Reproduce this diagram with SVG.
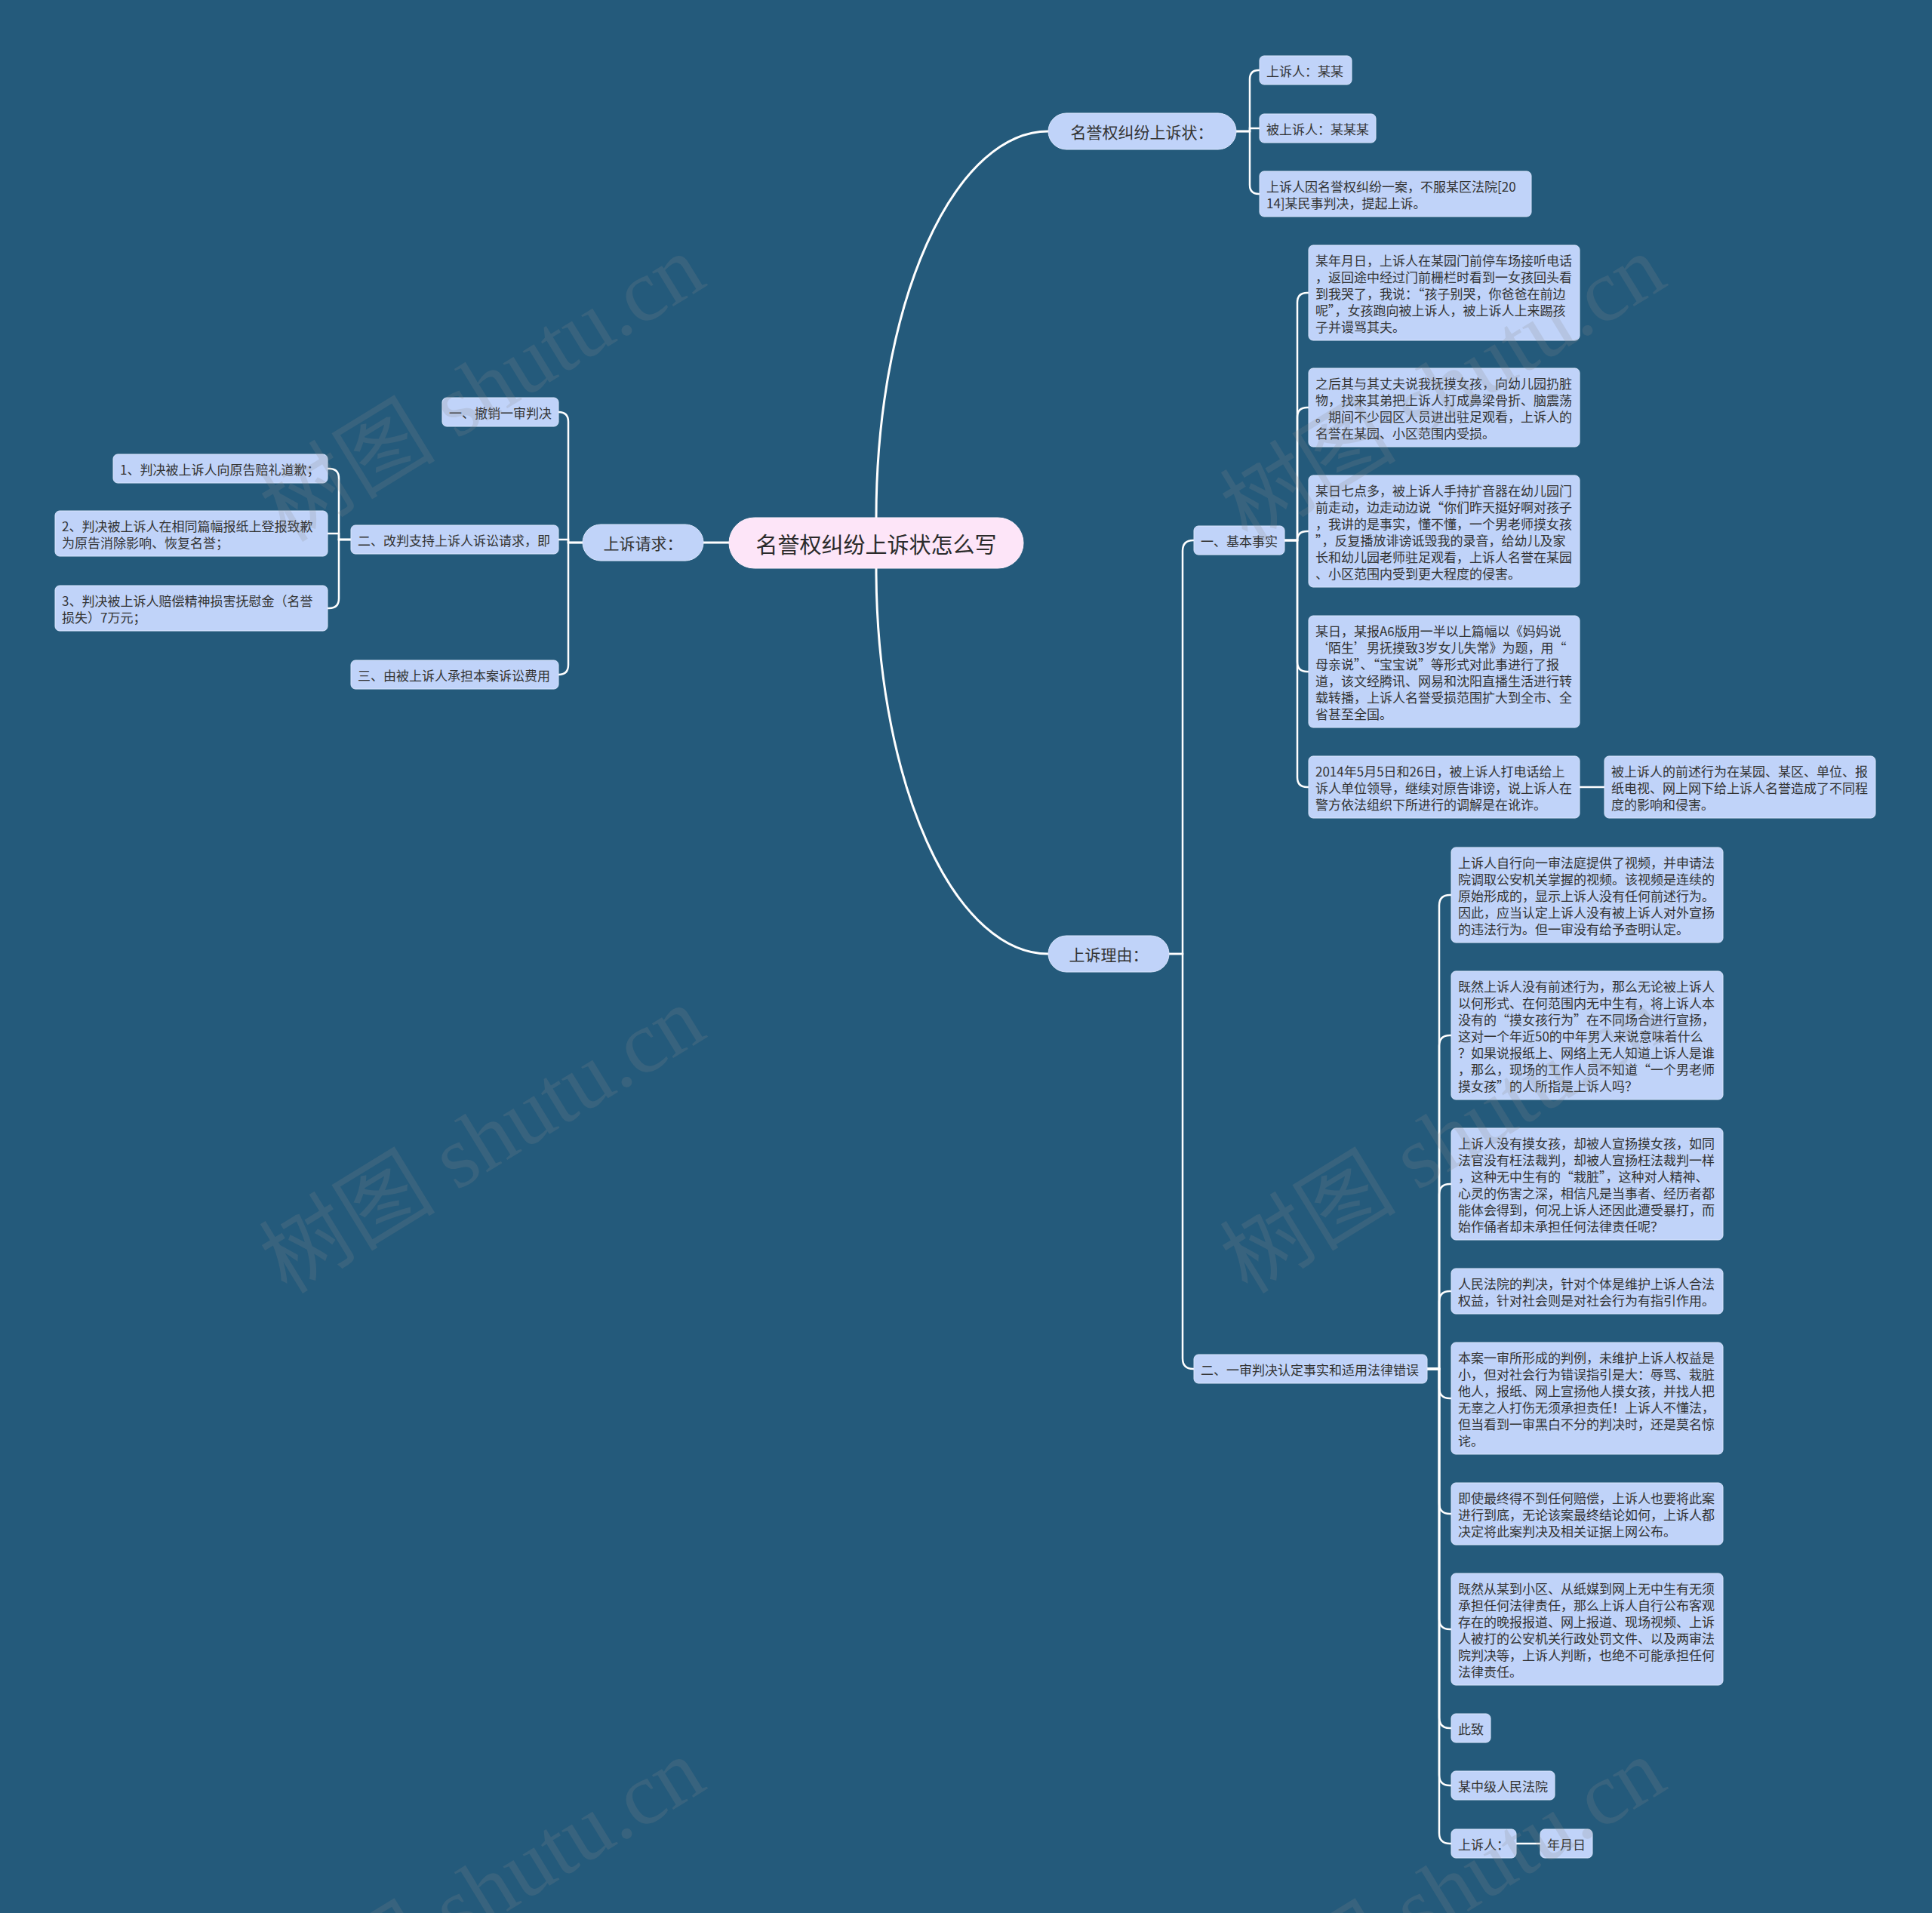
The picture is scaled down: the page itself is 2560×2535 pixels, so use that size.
<svg xmlns="http://www.w3.org/2000/svg" width="2560" height="2535" viewBox="0 0 2560 2535">
<style>
  .bg{fill:#245a7b}
  .c path{fill:none;stroke:#ffffff;stroke-width:2.5;stroke-linecap:round}
  .c .m{stroke-width:3}
  .n rect{fill:#c0d3f9;stroke:#d9e5fd;stroke-width:1}
  .n text{font-family:"Noto Sans CJK SC","Noto Sans",sans-serif;font-size:17px;fill:#333333;dominant-baseline:central}
  .l1 text{font-size:21px;text-anchor:middle}
  .root rect{fill:#fde5f8;stroke:#fff0fb}
  .root text{font-size:29px;text-anchor:middle;fill:#2b2b2b}
  .wm text{font-family:"Liberation Serif","Noto Sans CJK SC",serif;font-size:117px;fill:#8a8a8a;opacity:0.2}
</style>
<rect class="bg" x="0" y="0" width="2560" height="2535"/>

<g class="c" id="connectors">
  <path class="m" d="M1161 686 A228 512 0 0 1 1389 174"/>
  <path class="m" d="M1161 753 A228 511 0 0 0 1389 1264"/>
  <path class="m" d="M966 719 H932"/>
  <path d="M1638 174 H1656 V105 Q1656 93 1668 93 H1669"/>
  <path d="M1638 174 H1656 V170 H1669"/>
  <path d="M1638 174 H1656 V245 Q1656 257 1668 257 H1669"/>
  <path d="M1549 1264 H1567 V730 Q1567 716 1581 716 H1582"/>
  <path d="M1549 1264 H1567 V1800 Q1567 1814 1581 1814 H1582"/>
  <path d="M1701 716 H1719 V401 Q1719 388 1732 388 H1734"/>
  <path d="M1701 716 H1719 V553 Q1719 540 1732 540 H1734"/>
  <path d="M1701 716 H1719 Q1719 704 1732 704 H1734"/>
  <path d="M1701 716 H1719 V877 Q1719 890 1732 890 H1734"/>
  <path d="M1701 716 H1719 V1030 Q1719 1043 1732 1043 H1734"/>
  <path d="M2093 1043 H2126"/>
  <path d="M1891 1814 H1907 V1200 Q1907 1186 1921 1186 H1923"/>
  <path d="M1891 1814 H1907 V1386 Q1907 1372 1921 1372 H1923"/>
  <path d="M1891 1814 H1907 V1583 Q1907 1569 1921 1569 H1923"/>
  <path d="M1891 1814 H1907 V1725 Q1907 1711 1921 1711 H1923"/>
  <path d="M1891 1814 H1907 V1839 Q1907 1853 1921 1853 H1923"/>
  <path d="M1891 1814 H1907 V1992 Q1907 2006 1921 2006 H1923"/>
  <path d="M1891 1814 H1907 V2145 Q1907 2159 1921 2159 H1923"/>
  <path d="M1891 1814 H1907 V2276 Q1907 2290 1921 2290 H1923"/>
  <path d="M1891 1814 H1907 V2352 Q1907 2366 1921 2366 H1923"/>
  <path d="M1891 1814 H1907 V2429 Q1907 2443 1921 2443 H1923"/>
  <path d="M2009 2443 H2041"/>
  <path d="M772 719 H753 V559 Q753 546 740 546"/>
  <path d="M772 719 H753 V715 H740"/>
  <path d="M772 719 H753 V881 Q753 894 740 894"/>
  <path d="M465 715 H449 V634 Q449 621 436 621 H434"/>
  <path d="M465 715 H449 V707 H434"/>
  <path d="M465 715 H449 V793 Q449 806 436 806 H434"/>
</g>

<g id="root" class="n root">
  <rect x="966" y="686" width="390" height="67" rx="33.5"/>
  <text x="1161" y="720">名誉权纠纷上诉状怎么写</text>
</g>

<g id="n-title" class="n l1">
  <rect x="1389" y="150" width="249" height="48" rx="24"/>
  <text x="1513" y="174">名誉权纠纷上诉状：</text>
</g>
<g id="n-request" class="n l1">
  <rect x="772" y="695" width="160" height="48" rx="24"/>
  <text x="852" y="719">上诉请求：</text>
</g>
<g id="n-reason" class="n l1">
  <rect x="1389" y="1240" width="160" height="48" rx="24"/>
  <text x="1469" y="1264">上诉理由：</text>
</g>

<g id="a1" class="n"><rect x="1669" y="74" width="122" height="38" rx="6"/><text x="1678" y="93">上诉人：某某</text></g>
<g id="a2" class="n"><rect x="1669" y="151" width="154" height="38" rx="6"/><text x="1678" y="170">被上诉人：某某某</text></g>
<g id="a3" class="n"><rect x="1669" y="227" width="360" height="60" rx="6"/><text x="1678" y="246">上诉人因名誉权纠纷一案，不服某区法院[20<tspan x="1678" y="268">14]某民事判决，提起上诉。</tspan></text></g>

<g id="facts" class="n"><rect x="1582" y="697" width="120" height="38" rx="6"/><text x="1591" y="716">一、基本事实</text></g>
<g id="errors" class="n"><rect x="1582" y="1795" width="309" height="38" rx="6"/><text x="1591" y="1814">二、一审判决认定事实和适用法律错误</text></g>

<g id="b1" class="n"><rect x="1734" y="325" width="359" height="126" rx="6"/><text x="1743" y="344">某年月日，上诉人在某园门前停车场接听电话<tspan x="1743" y="366">，返回途中经过门前栅栏时看到一女孩回头看</tspan><tspan x="1743" y="388">到我哭了，我说：“孩子别哭，你爸爸在前边</tspan><tspan x="1743" y="410">呢”，女孩跑向被上诉人，被上诉人上来踢孩</tspan><tspan x="1743" y="432">子并谩骂其夫。</tspan></text></g>
<g id="b2" class="n"><rect x="1734" y="488" width="359" height="104" rx="6"/><text x="1743" y="507">之后其与其丈夫说我抚摸女孩，向幼儿园扔脏<tspan x="1743" y="529">物，找来其弟把上诉人打成鼻梁骨折、脑震荡</tspan><tspan x="1743" y="551">。期间不少园区人员进出驻足观看，上诉人的</tspan><tspan x="1743" y="573">名誉在某园、小区范围内受损。</tspan></text></g>
<g id="b3" class="n"><rect x="1734" y="630" width="359" height="148" rx="6"/><text x="1743" y="649">某日七点多，被上诉人手持扩音器在幼儿园门<tspan x="1743" y="671">前走动，边走动边说“你们昨天挺好啊对孩子</tspan><tspan x="1743" y="693">，我讲的是事实，懂不懂，一个男老师摸女孩</tspan><tspan x="1743" y="715">”，反复播放诽谤诋毁我的录音，给幼儿及家</tspan><tspan x="1743" y="737">长和幼儿园老师驻足观看，上诉人名誉在某园</tspan><tspan x="1743" y="759">、小区范围内受到更大程度的侵害。</tspan></text></g>
<g id="b4" class="n"><rect x="1734" y="816" width="359" height="148" rx="6"/><text x="1743" y="835">某日，某报A6版用一半以上篇幅以《妈妈说<tspan x="1743" y="857">‘陌生’男抚摸致3岁女儿失常》为题，用“</tspan><tspan x="1743" y="879">母亲说”、“宝宝说”等形式对此事进行了报</tspan><tspan x="1743" y="901">道，该文经腾讯、网易和沈阳直播生活进行转</tspan><tspan x="1743" y="923">载转播，上诉人名誉受损范围扩大到全市、全</tspan><tspan x="1743" y="945">省甚至全国。</tspan></text></g>
<g id="b5" class="n"><rect x="1734" y="1002" width="359" height="82" rx="6"/><text x="1743" y="1021">2014年5月5日和26日，被上诉人打电话给上<tspan x="1743" y="1043">诉人单位领导，继续对原告诽谤，说上诉人在</tspan><tspan x="1743" y="1065">警方依法组织下所进行的调解是在讹诈。</tspan></text></g>
<g id="b6" class="n"><rect x="2126" y="1002" width="359" height="82" rx="6"/><text x="2135" y="1021">被上诉人的前述行为在某园、某区、单位、报<tspan x="2135" y="1043">纸电视、网上网下给上诉人名誉造成了不同程</tspan><tspan x="2135" y="1065">度的影响和侵害。</tspan></text></g>

<g id="c1" class="n"><rect x="1923" y="1123" width="360" height="126" rx="6"/><text x="1932" y="1142">上诉人自行向一审法庭提供了视频，并申请法<tspan x="1932" y="1164">院调取公安机关掌握的视频。该视频是连续的</tspan><tspan x="1932" y="1186">原始形成的，显示上诉人没有任何前述行为。</tspan><tspan x="1932" y="1208">因此，应当认定上诉人没有被上诉人对外宣扬</tspan><tspan x="1932" y="1230">的违法行为。但一审没有给予查明认定。</tspan></text></g>
<g id="c2" class="n"><rect x="1923" y="1287" width="360" height="170" rx="6"/><text x="1932" y="1306">既然上诉人没有前述行为，那么无论被上诉人<tspan x="1932" y="1328">以何形式、在何范围内无中生有，将上诉人本</tspan><tspan x="1932" y="1350">没有的“摸女孩行为”在不同场合进行宣扬，</tspan><tspan x="1932" y="1372">这对一个年近50的中年男人来说意味着什么</tspan><tspan x="1932" y="1394">？如果说报纸上、网络上无人知道上诉人是谁</tspan><tspan x="1932" y="1416">，那么，现场的工作人员不知道“一个男老师</tspan><tspan x="1932" y="1438">摸女孩”的人所指是上诉人吗？</tspan></text></g>
<g id="c3" class="n"><rect x="1923" y="1495" width="360" height="148" rx="6"/><text x="1932" y="1514">上诉人没有摸女孩，却被人宣扬摸女孩，如同<tspan x="1932" y="1536">法官没有枉法裁判，却被人宣扬枉法裁判一样</tspan><tspan x="1932" y="1558">，这种无中生有的“栽脏”，这种对人精神、</tspan><tspan x="1932" y="1580">心灵的伤害之深，相信凡是当事者、经历者都</tspan><tspan x="1932" y="1602">能体会得到，何况上诉人还因此遭受暴打，而</tspan><tspan x="1932" y="1624">始作俑者却未承担任何法律责任呢？</tspan></text></g>
<g id="c4" class="n"><rect x="1923" y="1681" width="360" height="60" rx="6"/><text x="1932" y="1700">人民法院的判决，针对个体是维护上诉人合法<tspan x="1932" y="1722">权益，针对社会则是对社会行为有指引作用。</tspan></text></g>
<g id="c5" class="n"><rect x="1923" y="1779" width="360" height="148" rx="6"/><text x="1932" y="1798">本案一审所形成的判例，未维护上诉人权益是<tspan x="1932" y="1820">小，但对社会行为错误指引是大：辱骂、栽脏</tspan><tspan x="1932" y="1842">他人，报纸、网上宣扬他人摸女孩，并找人把</tspan><tspan x="1932" y="1864">无辜之人打伤无须承担责任！上诉人不懂法，</tspan><tspan x="1932" y="1886">但当看到一审黑白不分的判决时，还是莫名惊</tspan><tspan x="1932" y="1908">诧。</tspan></text></g>
<g id="c6" class="n"><rect x="1923" y="1965" width="360" height="82" rx="6"/><text x="1932" y="1984">即使最终得不到任何赔偿，上诉人也要将此案<tspan x="1932" y="2006">进行到底，无论该案最终结论如何，上诉人都</tspan><tspan x="1932" y="2028">决定将此案判决及相关证据上网公布。</tspan></text></g>
<g id="c7" class="n"><rect x="1923" y="2085" width="360" height="148" rx="6"/><text x="1932" y="2104">既然从某到小区、从纸媒到网上无中生有无须<tspan x="1932" y="2126">承担任何法律责任，那么上诉人自行公布客观</tspan><tspan x="1932" y="2148">存在的晚报报道、网上报道、现场视频、上诉</tspan><tspan x="1932" y="2170">人被打的公安机关行政处罚文件、以及两审法</tspan><tspan x="1932" y="2192">院判决等，上诉人判断，也绝不可能承担任何</tspan><tspan x="1932" y="2214">法律责任。</tspan></text></g>
<g id="c8" class="n"><rect x="1923" y="2271" width="52" height="38" rx="6"/><text x="1932" y="2290">此致</text></g>
<g id="c9" class="n"><rect x="1923" y="2347" width="137" height="38" rx="6"/><text x="1932" y="2366">某中级人民法院</text></g>
<g id="c10" class="n"><rect x="1923" y="2424" width="86" height="38" rx="6"/><text x="1932" y="2443">上诉人：</text></g>
<g id="c11" class="n"><rect x="2041" y="2424" width="69" height="38" rx="6"/><text x="2050" y="2443">年月日</text></g>

<g id="l1" class="n"><rect x="586" y="527" width="154" height="38" rx="6"/><text x="595" y="546">一、撤销一审判决</text></g>
<g id="l2" class="n"><rect x="465" y="696" width="275" height="38" rx="6"/><text x="474" y="715">二、改判支持上诉人诉讼请求，即</text></g>
<g id="l3" class="n"><rect x="465" y="875" width="275" height="38" rx="6"/><text x="474" y="894">三、由被上诉人承担本案诉讼费用</text></g>
<g id="m1" class="n"><rect x="150" y="602" width="284" height="38" rx="6"/><text x="159" y="621">1、判决被上诉人向原告赔礼道歉；</text></g>
<g id="m2" class="n"><rect x="73" y="677" width="361" height="60" rx="6"/><text x="82" y="696">2、判决被上诉人在相同篇幅报纸上登报致歉<tspan x="82" y="718">为原告消除影响、恢复名誉；</tspan></text></g>
<g id="m3" class="n"><rect x="73" y="776" width="361" height="60" rx="6"/><text x="82" y="795">3、判决被上诉人赔偿精神损害抚慰金（名誉<tspan x="82" y="817">损失）7万元；</tspan></text></g>

<g class="wm" id="watermark">
  <text transform="translate(380 720) rotate(-31.5)">树图 shutu.cn</text>
  <text transform="translate(380 1716) rotate(-31.5)">树图 shutu.cn</text>
  <text transform="translate(1653 720) rotate(-31.5)">树图 shutu.cn</text>
  <text transform="translate(1653 1716) rotate(-31.5)">树图 shutu.cn</text>
  <text transform="translate(380 2712) rotate(-31.5)">树图 shutu.cn</text>
  <text transform="translate(1653 2712) rotate(-31.5)">树图 shutu.cn</text>
</g>
</svg>
